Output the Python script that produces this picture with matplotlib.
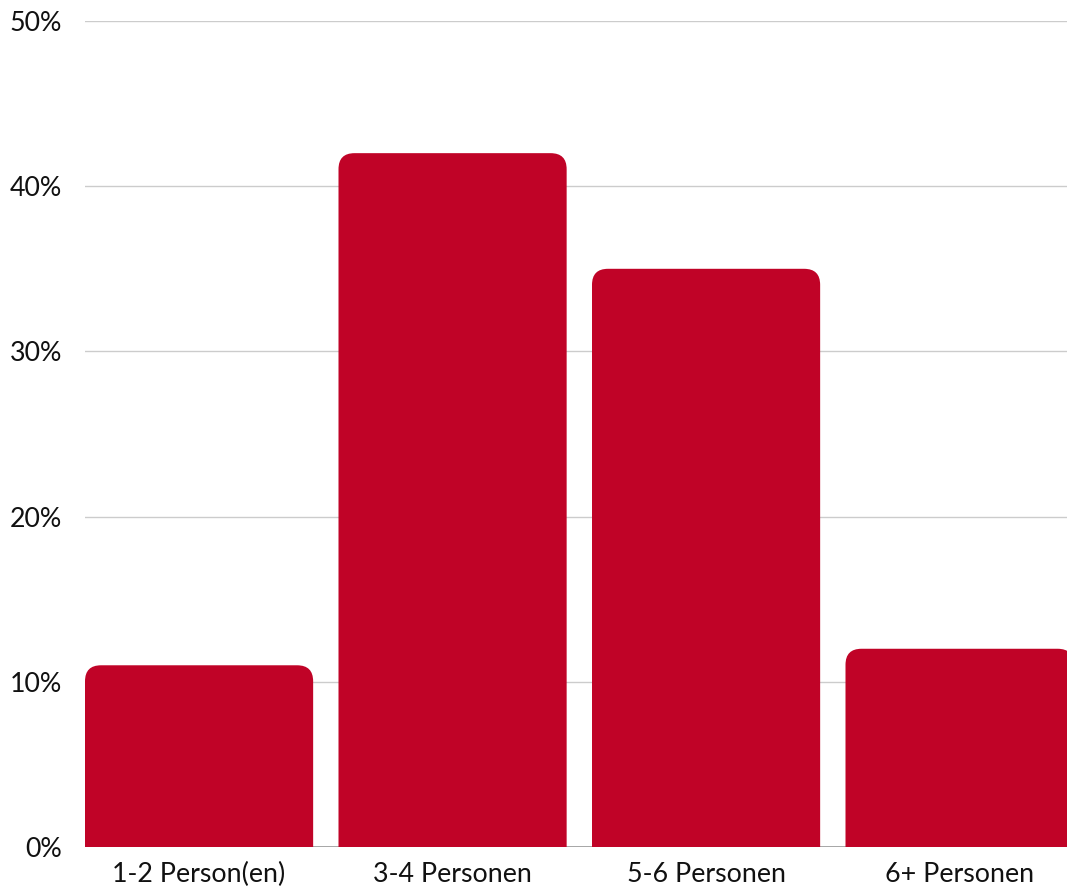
import matplotlib.pyplot as plt
from matplotlib.patches import PathPatch
from matplotlib.path import Path
from matplotlib.ticker import FuncFormatter

categories = ["1-2 Person(en)", "3-4 Personen", "5-6 Personen", "6+ Personen"]
values = [11, 42, 35, 12]
y_ticks = [0, 10, 20, 30, 40, 50]

bar_color = "#C00327"
bar_width = 0.9
radius_px = 16

plt.rcParams['font.family'] = ['Lato', 'DejaVu Sans']


def top_rounded_bar(x0, w, h, rx, ry):
    # bar with only the two top corners rounded
    x1 = x0 + w
    verts = [(x0, 0), (x0, h - ry), (x0, h), (x0 + rx, h),
             (x1 - rx, h), (x1, h), (x1, h - ry), (x1, 0), (x0, 0)]
    codes = [Path.MOVETO, Path.LINETO, Path.CURVE3, Path.CURVE3,
             Path.LINETO, Path.CURVE3, Path.CURVE3, Path.LINETO,
             Path.CLOSEPOLY]
    return Path(verts, codes)


fig = plt.figure(figsize=(10.67, 8.88), dpi=100)
# axes run a little past the right figure edge, as in the original
ax = fig.add_axes([85 / 1067, 41 / 888, 1014 / 1067, 826 / 888])

ax.set_xlim(-bar_width / 2, len(categories) - bar_width / 2)
ax.set_ylim(0, 50)

# data units per pixel, to keep the corners round
rx = radius_px * len(categories) / 1014
ry = radius_px * 50 / 826

for i, v in enumerate(values):
    path = top_rounded_bar(i - bar_width / 2, bar_width, v, rx, ry)
    ax.add_patch(PathPatch(path, fc=bar_color, ec="none", zorder=3))

ax.set_yticks(y_ticks)
ax.yaxis.set_major_formatter(FuncFormatter(lambda v, p: f"{v:.0f}%"))
ax.set_xticks(range(len(categories)))
ax.set_xticklabels(categories)

ax.grid(axis="y", color="#cccccc", lw=1, zorder=0)
ax.axhline(0, color="#999999", lw=1.2, zorder=2)
for s in ax.spines.values():
    s.set_visible(False)
ax.tick_params(axis="both", length=0, labelsize=19.3, colors="#111111")
ax.tick_params(axis="y", pad=16.5)
ax.tick_params(axis="x", pad=11)

fig.savefig("out.png", dpi=100)
